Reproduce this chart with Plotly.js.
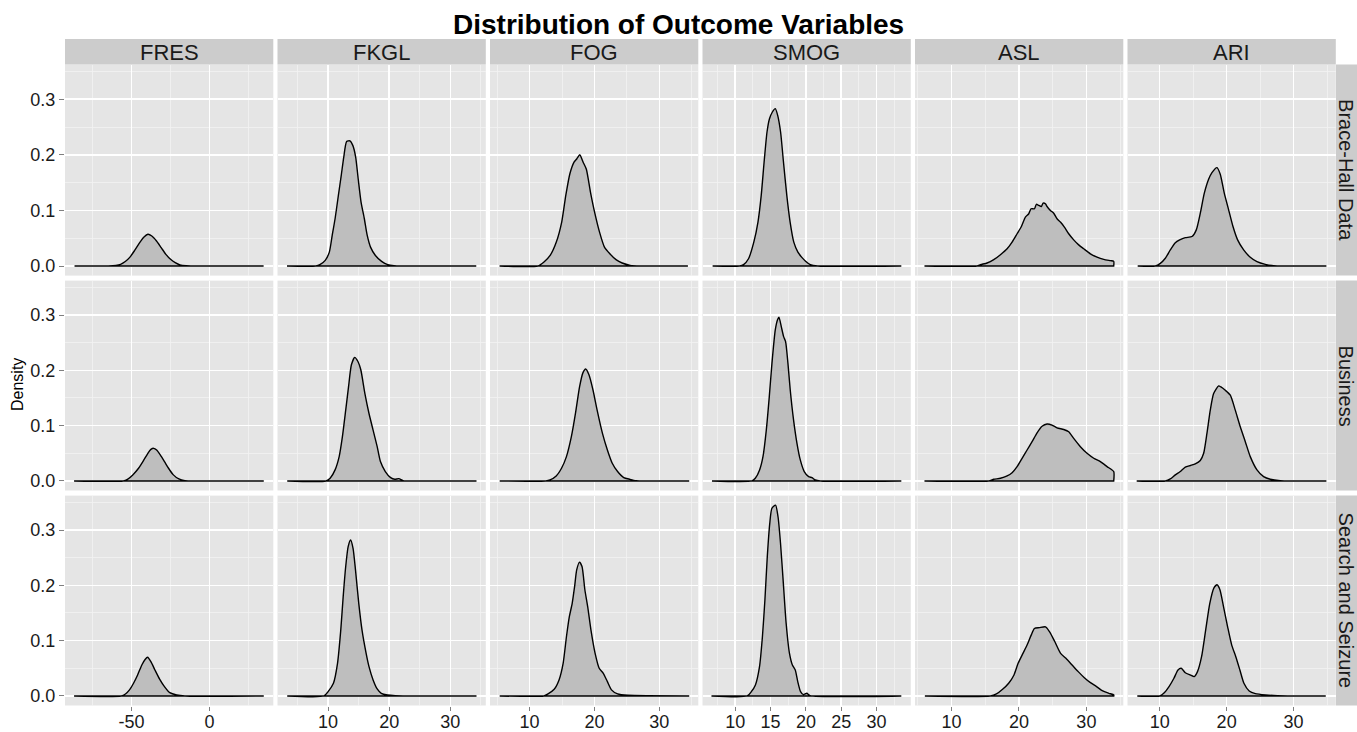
<!DOCTYPE html>
<html><head><meta charset="utf-8">
<script src="https://cdn.plot.ly/plotly-3.0.1.min.js"></script>
<style>html,body{margin:0;padding:0;background:#fff;}#chart{width:1357px;height:732px;}</style>
</head><body><div id="chart"></div>
<script>
// ---------- categories ----------
const variables = ['FRES', 'FKGL', 'FOG', 'SMOG', 'ASL', 'ARI'];
const groups = ['Brace-Hall Data', 'Business', 'Search and Seizure'];

// ---------- tick labels ----------
const fresTicks = [-50, 0];           const fresTickText = ['-50', '0'];
const fkglTicks = [10, 20, 30];       const fkglTickText = ['10', '20', '30'];
const fogTicks = [10, 20, 30];        const fogTickText = ['10', '20', '30'];
const smogTicks = [10, 15, 20, 25, 30]; const smogTickText = ['10', '15', '20', '25', '30'];
const aslTicks = [10, 20, 30];        const aslTickText = ['10', '20', '30'];
const ariTicks = [10, 20, 30];        const ariTickText = ['10', '20', '30'];
const fresMinor = [-75, -25, 25];
const fkglMinor = [5, 15, 25, 35];
const fogMinor = [5, 15, 25, 35];
const smogMinor = [7.5, 12.5, 17.5, 22.5, 27.5, 32.5];
const aslMinor = [5, 15, 25, 35];
const ariMinor = [15, 25, 35];
const densityTicks = [0, 0.1, 0.2, 0.3];
const densityTickText = ['0.0', '0.1', '0.2', '0.3'];
const densityMinor = [0.05, 0.15, 0.25, 0.35];

// ---------- density curves: Brace-Hall Data ----------
const fres_brace_x = [-86.5,-65,-60,-57,-54,-51,-48,-45,-42,-39.5,-37,-34,-31,-28,-25,-22,-19,-15,-5,34.6];
const fres_brace_y = [0,0,0.001,0.003,0.008,0.016,0.028,0.041,0.052,0.057,0.054,0.045,0.033,0.021,0.012,0.006,0.002,0.0005,0,0];
const fkgl_brace_x = [3.27,8.0,8.65,9.53,10.2,10.67,11.14,11.68,12.15,12.56,13.03,13.57,14.04,14.51,14.92,15.39,15.93,16.4,16.94,17.74,18.75,19.76,20.77,22,34.24];
const fkgl_brace_y = [0,0,0.0024,0.0102,0.025,0.055,0.085,0.127,0.163,0.196,0.224,0.225,0.217,0.196,0.157,0.115,0.085,0.055,0.034,0.019,0.0084,0.0024,0.0006,0,0];
const fog_brace_x = [5.37,11.3,12.22,13.17,14.12,14.95,15.58,16.21,16.85,17.29,17.74,18.24,18.75,19.38,20.02,20.78,21.54,22.37,23.32,24.27,25.5,27.1,34.4];
const fog_brace_y = [0,0,0.0072,0.019,0.043,0.079,0.127,0.166,0.187,0.193,0.200,0.187,0.174,0.133,0.097,0.061,0.034,0.022,0.0114,0.0054,0.0012,0,0];
const smog_brace_x = [6.79,10.6,11.17,11.87,12.62,13.21,13.67,14.08,14.49,14.84,15.25,15.66,16.0,16.41,16.82,17.29,17.76,18.28,18.86,19.45,19.91,20.61,21.66,33.5];
const smog_brace_y = [0,0,0.0024,0.013,0.043,0.079,0.127,0.187,0.241,0.265,0.277,0.283,0.271,0.241,0.187,0.127,0.079,0.043,0.025,0.015,0.009,0.0024,0,0];
const asl_brace_x = [6.0,13.8,14.3,15.28,16.27,17.26,18.25,18.99,19.73,20.37,20.96,21.46,21.8,22.3,22.59,22.94,23.33,23.58,23.93,24.17,24.67,25.16,25.65,26.15,26.74,27.38,28.12,28.86,29.6,30.59,31.58,32.57,33.56,34.05,34.05];
const asl_brace_y = [0,0,0.0024,0.0054,0.0114,0.0204,0.031,0.043,0.058,0.071,0.088,0.094,0.103,0.103,0.111,0.109,0.107,0.113,0.112,0.107,0.100,0.095,0.085,0.079,0.070,0.058,0.047,0.038,0.031,0.022,0.016,0.012,0.0096,0.0084,0];
const ari_brace_x = [6.72,9.35,10.1,10.85,11.59,12.34,12.99,13.83,14.83,15.47,16.07,16.67,17.31,17.81,18.56,19.05,19.65,20.3,20.95,21.64,22.54,23.53,24.53,25.77,27.0,34.9];
const ari_brace_y = [0,0,0.0048,0.0139,0.029,0.042,0.047,0.051,0.053,0.065,0.095,0.131,0.156,0.168,0.177,0.165,0.131,0.101,0.071,0.047,0.029,0.0157,0.0078,0.003,0.0006,0];

// ---------- density curves: Business ----------
const fres_bus_x = [-86.8,-55.3,-52.6,-49.2,-45.5,-42.1,-39.5,-37.6,-35.8,-33.9,-31.6,-28.9,-26.3,-23.2,-19.7,-15.8,-8,34.7];
const fres_bus_y = [0,0,0.003,0.011,0.023,0.038,0.050,0.057,0.059,0.056,0.047,0.035,0.023,0.011,0.0036,0.0006,0,0];
const fkgl_bus_x = [3.31,9.67,10.33,11.14,11.81,12.34,12.88,13.34,13.81,14.35,14.88,15.35,16.02,16.69,17.36,18.03,18.56,19.36,20.23,20.9,21.57,22.24,23.0,34.28];
const fkgl_bus_y = [0,0,0.0048,0.020,0.044,0.080,0.128,0.170,0.210,0.2235,0.216,0.201,0.158,0.122,0.092,0.062,0.035,0.017,0.006,0.003,0.0042,0.0006,0,0];
const fog_bus_x = [5.39,12.5,13.15,14.1,14.92,15.68,16.44,17.07,17.70,18.2,18.64,19.15,19.78,20.41,21.23,21.99,22.74,23.56,24.51,25.46,26.4,28,34.6];
const fog_bus_y = [0,0,0.0018,0.009,0.023,0.044,0.080,0.122,0.170,0.195,0.2024,0.192,0.164,0.128,0.086,0.056,0.032,0.017,0.006,0.003,0.0006,0,0];
const smog_bus_x = [6.7,12.36,12.83,13.44,13.92,14.39,14.81,15.19,15.66,15.99,16.18,16.51,16.84,17.12,17.45,17.78,18.25,18.73,19.2,19.76,20.38,20.85,21.32,22.03,33.5];
const smog_bus_y = [0,0,0.0048,0.020,0.044,0.092,0.152,0.213,0.273,0.292,0.296,0.279,0.261,0.252,0.213,0.164,0.110,0.068,0.038,0.017,0.0078,0.006,0.0018,0,0];
const asl_bus_x = [6.0,15.53,16.27,17.26,18.25,18.99,19.73,20.47,21.21,21.95,22.69,23.43,24.17,24.91,25.65,26.64,27.38,28.12,29.11,30.1,31.09,32.07,33.06,34.05,34.05];
const asl_bus_y = [0,0,0.003,0.0048,0.009,0.015,0.026,0.041,0.056,0.071,0.087,0.099,0.103,0.101,0.096,0.093,0.089,0.077,0.062,0.050,0.041,0.035,0.026,0.017,0];
const ari_bus_x = [6.57,10.85,11.59,12.34,13.08,13.83,14.58,15.32,16.07,16.57,17.06,17.56,18.06,18.81,19.15,19.8,20.55,21.29,22.04,22.79,23.53,24.53,25.52,26.52,28.0,34.9];
const ari_bus_y = [0,0,0.0036,0.011,0.017,0.025,0.028,0.031,0.037,0.050,0.086,0.128,0.158,0.172,0.170,0.164,0.155,0.128,0.098,0.071,0.044,0.020,0.0078,0.003,0.0006,0];

// ---------- density curves: Search and Seizure ----------
const fres_ss_x = [-86.8,-56.6,-53.9,-51.3,-48.7,-46.1,-43.4,-41.3,-39.7,-37.6,-35.0,-32.1,-28.9,-25.5,-21.1,-15.8,34.7];
const fres_ss_y = [0,0,0.0036,0.011,0.023,0.038,0.056,0.066,0.070,0.062,0.047,0.031,0.017,0.006,0.0018,0,0];
const fkgl_ss_x = [3.31,9.33,10.0,10.87,11.54,12.07,12.47,12.88,13.28,13.68,14.08,14.48,15.02,15.55,16.22,16.69,17.36,18.03,18.7,19.7,21.0,34.28];
const fkgl_ss_y = [0,0,0.0078,0.023,0.059,0.119,0.180,0.234,0.270,0.282,0.267,0.228,0.167,0.119,0.077,0.053,0.029,0.0127,0.0048,0.0018,0.0006,0];
const fog_ss_x = [5.39,12.2,12.84,13.79,14.54,15.17,15.68,16.12,16.56,16.94,17.26,17.70,18.08,18.52,18.96,19.46,20.1,20.73,21.36,21.99,22.62,23.56,25.14,34.6];
const fog_ss_y = [0,0,0.0036,0.012,0.029,0.059,0.107,0.143,0.167,0.198,0.228,0.242,0.234,0.192,0.161,0.119,0.077,0.050,0.041,0.026,0.011,0.0036,0.0012,0];
const smog_ss_x = [6.63,11.69,12.27,12.85,13.43,13.84,14.19,14.53,14.88,15.17,15.7,16.05,16.4,16.8,17.2,17.67,18.08,18.49,18.84,19.24,19.65,20.12,20.58,33.5];
const smog_ss_y = [0,0,0.0078,0.020,0.053,0.107,0.173,0.252,0.312,0.339,0.345,0.324,0.276,0.204,0.131,0.077,0.056,0.047,0.026,0.0078,0.0024,0.0048,0.0006,0];
const asl_ss_x = [6.06,15.76,16.67,17.58,18.48,19.27,19.88,20.6,21.21,21.82,22.3,23.03,23.94,24.55,25.33,26.18,26.97,27.88,28.79,29.7,30.6,31.5,32.42,33.33,34.06,34.06];
const asl_ss_y = [0,0,0.0036,0.012,0.023,0.038,0.059,0.077,0.092,0.110,0.122,0.1235,0.125,0.116,0.098,0.077,0.068,0.056,0.044,0.033,0.024,0.017,0.009,0.0048,0.0018,0];
const ari_ss_x = [6.66,10.0,10.61,11.4,12.13,12.74,13.22,13.83,14.56,15.17,15.65,16.26,16.87,17.48,18.09,18.57,19.0,19.54,20.15,20.76,21.37,21.98,22.58,23.37,24.29,25.8,27.6,34.8];
const ari_ss_y = [0,0,0.0048,0.017,0.032,0.047,0.050,0.042,0.038,0.035,0.044,0.071,0.119,0.167,0.195,0.201,0.192,0.161,0.125,0.092,0.071,0.047,0.023,0.009,0.0042,0.0018,0.0006,0];

// ---------- assemble ----------
const curves = [
  [[fres_brace_x,fres_brace_y],[fkgl_brace_x,fkgl_brace_y],[fog_brace_x,fog_brace_y],[smog_brace_x,smog_brace_y],[asl_brace_x,asl_brace_y],[ari_brace_x,ari_brace_y]],
  [[fres_bus_x,fres_bus_y],[fkgl_bus_x,fkgl_bus_y],[fog_bus_x,fog_bus_y],[smog_bus_x,smog_bus_y],[asl_bus_x,asl_bus_y],[ari_bus_x,ari_bus_y]],
  [[fres_ss_x,fres_ss_y],[fkgl_ss_x,fkgl_ss_y],[fog_ss_x,fog_ss_y],[smog_ss_x,smog_ss_y],[asl_ss_x,asl_ss_y],[ari_ss_x,ari_ss_y]]
];
const tickSets = [[fresTicks,fresTickText,fresMinor],[fkglTicks,fkglTickText,fkglMinor],[fogTicks,fogTickText,fogMinor],
                  [smogTicks,smogTickText,smogMinor],[aslTicks,aslTickText,aslMinor],[ariTicks,ariTickText,ariMinor]];

// layout geometry (pixels)
const W = 1357, H = 732;
const colX = [[65,273.3],[277.5,485.8],[490,698.3],[702.5,910.8],[915,1123.3],[1127.5,1335.8]];
const rowY = [[64.6,275.6],[280.6,490.5],[495.6,705.5]];
const xRanges = [[-92.6,40.8],[1.72,35.8],[3.9,36.0],[5.36,34.84],[4.6,35.47],[5.2,36.3]];
const yRange = [-0.01725, 0.36225];

const FONT = 'Liberation Sans, Arial, Helvetica, sans-serif';
const traces = [];
const layout = {
  width: W, height: H,
  margin: {l:0, r:0, t:0, b:0, pad:0},
  paper_bgcolor: '#FFFFFF',
  plot_bgcolor: '#E5E5E5',
  showlegend: false,
  font: {family: FONT, color: '#1a1a1a'},
  shapes: [], annotations: []
};

for (let r = 0; r < 3; r++) {
  for (let c = 0; c < 6; c++) {
    const k = r * 6 + c + 1;
    const sfx = k === 1 ? '' : String(k);
    const [xs, ys] = curves[r][c];
    // close the polygon along the baseline (as geom_density outlines it)
    const px = xs.concat([xs[xs.length - 1], xs[0]]);
    const py = ys.concat([0, 0]);
    traces.push({
      type: 'scatter', mode: 'lines', x: px, y: py,
      xaxis: 'x' + sfx, yaxis: 'y' + sfx,
      fill: 'toself', fillcolor: '#BEBEBE',
      line: {color: '#000000', width: 1.4, shape: 'spline', smoothing: 0.6},
      hoverinfo: 'skip'
    });
    const [tv, tt, mv] = tickSets[c];
    layout['xaxis' + sfx] = {
      domain: [colX[c][0] / W, colX[c][1] / W],
      anchor: 'y' + sfx, range: xRanges[c],
      tickmode: 'array', tickvals: tv, ticktext: tt,
      showticklabels: r === 2, ticks: r === 2 ? 'outside' : '',
      ticklen: 4, tickwidth: 1, tickcolor: '#7F7F7F',
      ticklabelstandoff: -4,
      tickfont: {family: FONT, size: 18, color: '#1a1a1a'},
      showgrid: true, gridcolor: '#FFFFFF', gridwidth: 1.6,
      minor: {tickmode: 'array', tickvals: mv, showgrid: true, gridcolor: '#F2F2F2', gridwidth: 0.8, ticks: ''},
      zeroline: false, showline: false, fixedrange: true
    };
    layout['yaxis' + sfx] = {
      domain: [1 - rowY[r][1] / H, 1 - rowY[r][0] / H],
      anchor: 'x' + sfx, range: yRange,
      tickmode: 'array', tickvals: densityTicks, ticktext: densityTickText,
      showticklabels: c === 0, ticks: c === 0 ? 'outside' : '',
      ticklen: 5, tickwidth: 1, tickcolor: '#7F7F7F',
      tickfont: {family: FONT, size: 18, color: '#1a1a1a'},
      showgrid: true, gridcolor: '#FFFFFF', gridwidth: 1.6,
      minor: {tickmode: 'array', tickvals: densityMinor, showgrid: true, gridcolor: '#F2F2F2', gridwidth: 0.8, ticks: ''},
      zeroline: false, showline: false, fixedrange: true
    };
  }
}

// top strips
for (let c = 0; c < 6; c++) {
  layout.shapes.push({type: 'rect', xref: 'paper', yref: 'paper', layer: 'below',
    x0: colX[c][0] / W, x1: colX[c][1] / W, y0: 1 - 64.6 / H, y1: 1 - 39 / H,
    fillcolor: '#CCCCCC', line: {width: 0}});
  layout.annotations.push({xref: 'paper', yref: 'paper', showarrow: false,
    x: (colX[c][0] + colX[c][1]) / 2 / W, y: 1 - 52.5 / H, xanchor: 'center', yanchor: 'middle',
    text: variables[c], font: {family: FONT, size: 22, color: '#1a1a1a'}});
}
// right strips
for (let r = 0; r < 3; r++) {
  layout.shapes.push({type: 'rect', xref: 'paper', yref: 'paper', layer: 'below',
    x0: 1336 / W, x1: 1.01, y0: 1 - rowY[r][1] / H, y1: 1 - rowY[r][0] / H,
    fillcolor: '#CCCCCC', line: {width: 0}});
  layout.annotations.push({xref: 'paper', yref: 'paper', showarrow: false,
    x: 1346 / W, y: 1 - (rowY[r][0] + rowY[r][1]) / 2 / H, xanchor: 'center', yanchor: 'middle',
    textangle: 90, text: groups[r], font: {family: FONT, size: 20, color: '#1a1a1a'}});
}
// title and y label
layout.annotations.push({xref: 'paper', yref: 'paper', showarrow: false,
  x: 0.5, y: 1 - 25 / H, xanchor: 'center', yanchor: 'middle',
  text: '<b>Distribution of Outcome Variables</b>', font: {family: FONT, size: 28, color: '#000000'}});
layout.annotations.push({xref: 'paper', yref: 'paper', showarrow: false,
  x: 17 / W, y: 1 - 385 / H, xanchor: 'center', yanchor: 'middle', textangle: -90,
  text: 'Density', font: {family: FONT, size: 16, color: '#000000'}});

Plotly.newPlot('chart', traces, layout, {staticPlot: true, displayModeBar: false});
</script>
</body></html>
